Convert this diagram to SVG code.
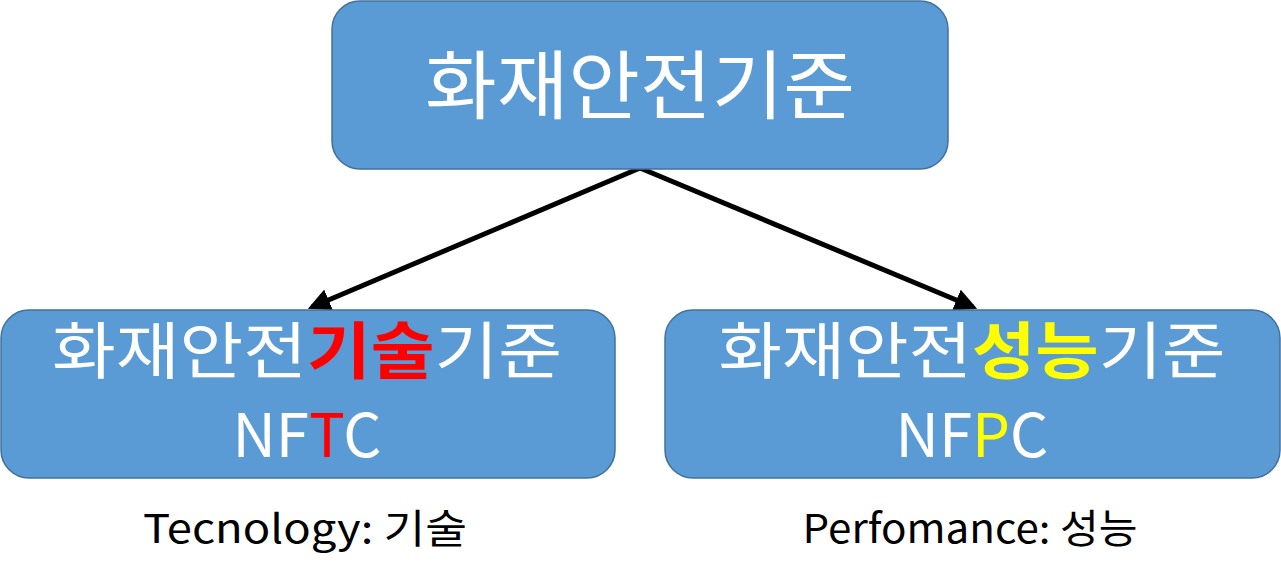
<svg xmlns="http://www.w3.org/2000/svg" width="1281" height="578" viewBox="0 0 1281 578">
<defs>
<style>
.box{fill:#5B9BD5;stroke:#41719C;stroke-width:1.5}
.t{font-family:"Noto Sans CJK KR","Noto Sans",sans-serif;fill:#fff;text-anchor:middle}
.lbl{font-family:"Noto Sans CJK KR","Noto Sans",sans-serif;fill:#000;text-anchor:middle;font-size:40px}
.con{stroke:#000;stroke-width:5;fill:none}
.red{fill:#FF0000;font-weight:bold}
.redl{fill:#FF0000}
.yel{fill:#FFFF00;font-weight:bold}
.yell{fill:#FFFF00}
</style>
<marker id="ah" viewBox="0 0 10 10" refX="8" refY="5" markerWidth="4.5" markerHeight="4.5" orient="auto" markerUnits="strokeWidth">
<path d="M0,0 L10,5 L0,10 z" fill="#000"/>
</marker>
</defs>
<rect width="1281" height="578" fill="#fff"/>
<g id="connectors">
<line class="con" x1="640" y1="168" x2="312" y2="307" marker-end="url(#ah)"/>
<line class="con" x1="640" y1="168" x2="973" y2="307" marker-end="url(#ah)"/>
</g>
<g id="top">
<rect class="box" x="332" y="1" width="616" height="168" rx="28"/>
<text class="t" x="640" y="113" font-size="75" textLength="430" lengthAdjust="spacingAndGlyphs">화재안전기준</text>
</g>
<g id="left">
<rect class="box" x="1" y="310" width="614" height="168" rx="28"/>
<text class="t" x="307" y="374" font-size="62" textLength="510" lengthAdjust="spacingAndGlyphs">화재안전<tspan class="red">기술</tspan>기준</text>
<text class="t" x="307" y="457" font-size="60">NF<tspan class="redl">T</tspan>C</text>
</g>
<g id="right">
<rect class="box" x="665" y="310" width="615" height="168" rx="28"/>
<text class="t" x="972" y="374" font-size="62" textLength="507" lengthAdjust="spacingAndGlyphs">화재안전<tspan class="yel">성능</tspan>기준</text>
<text class="t" x="972" y="457" font-size="60">NF<tspan class="yell">P</tspan>C</text>
</g>
<g id="label-left">
<text class="lbl" x="305" y="543" textLength="324" lengthAdjust="spacingAndGlyphs">Tecnology: 기술</text>
</g>
<g id="label-right">
<text class="lbl" x="970" y="543" textLength="335" lengthAdjust="spacingAndGlyphs">Perfomance: 성능</text>
</g>
</svg>
